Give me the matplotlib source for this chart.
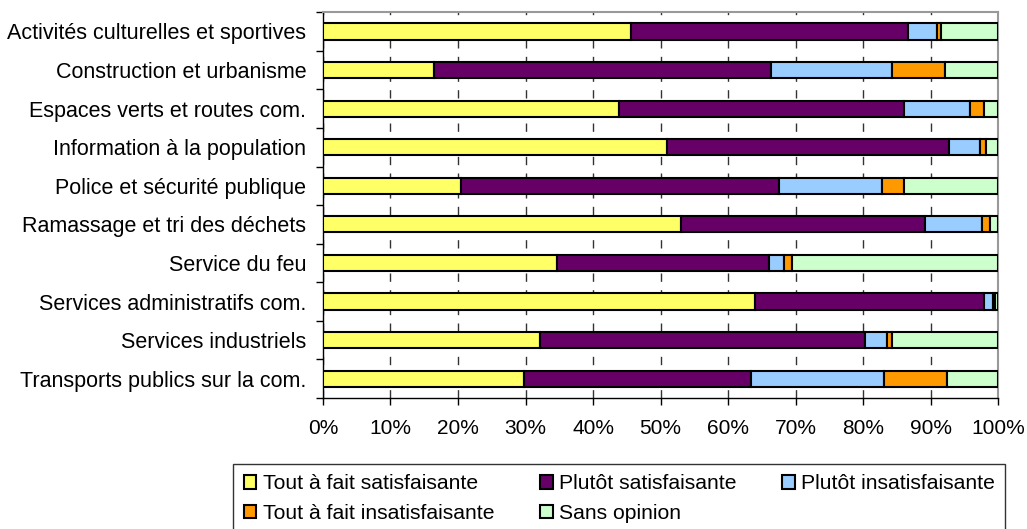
import numpy as np
import matplotlib.pyplot as plt
from matplotlib.ticker import FuncFormatter

plt.rcParams['font.family'] = ['Liberation Sans', 'DejaVu Sans']

categories = ['Activités culturelles et sportives', 'Construction et urbanisme',
              'Espaces verts et routes com.', 'Information à la population',
              'Police et sécurité publique', 'Ramassage et tri des déchets',
              'Service du feu', 'Services administratifs com.',
              'Services industriels', 'Transports publics sur la com.']

tout_sat = [45.7, 16.5, 43.9, 51.0, 20.5, 53.0, 34.7, 64.0, 32.1, 29.8]
plutot_sat = [40.9, 49.8, 42.2, 41.7, 47.0, 36.2, 31.4, 33.9, 48.2, 33.6]
plutot_insat = [4.3, 18.0, 9.8, 4.6, 15.3, 8.4, 2.2, 1.4, 3.2, 19.7]
tout_insat = [0.6, 7.8, 2.0, 0.9, 3.3, 1.2, 1.2, 0.3, 0.8, 9.3]
sans_opinion = [8.5, 7.9, 2.1, 1.8, 13.9, 1.2, 30.5, 0.4, 15.7, 7.6]

series = [('Tout à fait satisfaisante', tout_sat, '#FFFF66'),
          ('Plutôt satisfaisante', plutot_sat, '#660066'),
          ('Plutôt insatisfaisante', plutot_insat, '#99CCFF'),
          ('Tout à fait insatisfaisante', tout_insat, '#FF9900'),
          ('Sans opinion', sans_opinion, '#CCFFCC')]

fig = plt.figure(figsize=(10.27, 5.29), dpi=100)
ax = fig.add_axes([0.3145, 0.2476, 0.6573, 0.7294])

y = np.arange(len(categories))[::-1]
left = np.zeros(len(categories))
handles = {}
for name, vals, col in series:
    vals = np.array(vals)
    b = ax.barh(y, vals, left=left, height=0.42, color=col,
                edgecolor='black', linewidth=1.5, label=name, zorder=3)
    handles[name] = b
    left += vals

ax.set_xlim(0, 100)
ax.set_ylim(-0.5, len(categories) - 0.5)
ax.set_xticks(np.arange(0, 101, 10))
ax.xaxis.set_major_formatter(FuncFormatter(lambda v, p: f'{int(v)}%'))
ax.set_yticks(y)
ax.set_yticklabels(categories)
ax.set_yticks(np.arange(-0.5, len(categories), 1), minor=True)
ax.tick_params(axis='y', which='major', length=0, pad=12, labelsize=15.5)
ax.tick_params(axis='y', which='minor', length=5, width=1)
ax.tick_params(axis='x', length=5, width=1, pad=10, labelsize=15)
ax.grid(axis='x', color='#333333', linestyle=(0, (6, 6)), linewidth=1, zorder=0)

for s in ['top', 'right']:
    ax.spines[s].set_color('#999999')
    ax.spines[s].set_linewidth(1.5)
for s in ['left', 'bottom']:
    ax.spines[s].set_color('black')
    ax.spines[s].set_linewidth(1)

order = ['Tout à fait satisfaisante', 'Tout à fait insatisfaisante',
         'Plutôt satisfaisante', 'Sans opinion', 'Plutôt insatisfaisante']
leg = fig.legend([handles[n] for n in order], order, ncol=3,
                 loc='upper left', bbox_to_anchor=(0.227, -0.2, 0.752, 0.323),
                 mode='expand', borderaxespad=0,
                 frameon=True, fancybox=False, edgecolor='black',
                 fontsize=15.2, handlelength=0.6, handleheight=0.6,
                 handletextpad=0.3, columnspacing=0.5, labelspacing=0.5,
                 borderpad=0.5)
leg.get_frame().set_linewidth(1)

fig.savefig('out.png', dpi=100)
